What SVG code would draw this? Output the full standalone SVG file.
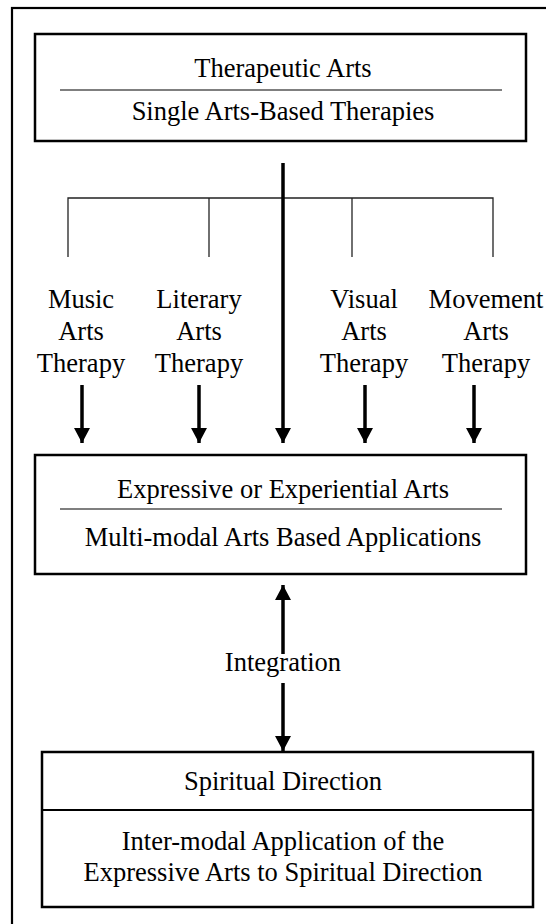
<svg xmlns="http://www.w3.org/2000/svg" width="546" height="924" viewBox="0 0 546 924">
<style>
text{font-family:'Liberation Serif',serif;font-size:26.5px;fill:#000;text-anchor:middle}
.box{fill:#fff;stroke:#000;stroke-width:2.5}
.div{stroke:#000;stroke-width:1.2}
.thin{stroke:#222;stroke-width:1.3;fill:none}
.arr{stroke:#000;stroke-width:3.5;fill:none;marker-end:url(#ah)}
</style>
<defs>
<marker id="ah" markerUnits="userSpaceOnUse" markerWidth="16" markerHeight="18" refX="15" refY="8" orient="auto">
<path d="M0,0 L15,8 L0,16 Z" fill="#000"/>
</marker>
</defs>
<rect x="0" y="0" width="546" height="924" fill="#fff"/>
<rect x="12" y="8" width="600" height="1000" fill="none" stroke="#000" stroke-width="2.2"/>
<g id="therapeutic">
<rect class="box" x="35" y="34" width="491" height="107"/>
<text x="283" y="77">Therapeutic Arts</text>
<line class="div" x1="60" y1="90" x2="502" y2="90"/>
<text x="283" y="120">Single Arts-Based Therapies</text>
</g>
<g id="music"><text x="81" y="308">Music</text><text x="81" y="340">Arts</text><text x="81" y="372">Therapy</text></g>
<g id="literary"><text x="199" y="308">Literary</text><text x="199" y="340">Arts</text><text x="199" y="372">Therapy</text></g>
<g id="visual"><text x="364" y="308">Visual</text><text x="364" y="340">Arts</text><text x="364" y="372">Therapy</text></g>
<g id="movement"><text x="486" y="308">Movement</text><text x="486" y="340">Arts</text><text x="486" y="372">Therapy</text></g>
<g id="expressive">
<rect class="box" x="35" y="455" width="491" height="119"/>
<text x="283" y="498">Expressive or Experiential Arts</text>
<line class="div" x1="60" y1="509" x2="502" y2="509"/>
<text x="283" y="546">Multi-modal Arts Based Applications</text>
</g>
<g id="integration"><text x="283" y="671">Integration</text></g>
<g id="spiritual">
<rect class="box" x="42" y="752" width="491" height="155"/>
<text x="283" y="790">Spiritual Direction</text>
<line stroke="#000" stroke-width="2.2" x1="42" y1="810" x2="533" y2="810"/>
<text x="283" y="850">Inter-modal Application of the</text>
<text x="283" y="881">Expressive Arts to Spiritual Direction</text>
</g>
<g id="connectors">
<polyline class="thin" points="68,257 68,198 493,198 493,257"/>
<line class="thin" x1="209" y1="198" x2="209" y2="257"/>
<line class="thin" x1="352" y1="198" x2="352" y2="257"/>
<line class="arr" x1="283" y1="163" x2="283" y2="443"/>
<line class="arr" x1="82" y1="385" x2="82" y2="443"/>
<line class="arr" x1="199" y1="385" x2="199" y2="443"/>
<line class="arr" x1="365" y1="385" x2="365" y2="443"/>
<line class="arr" x1="474" y1="385" x2="474" y2="443"/>
<line class="arr" x1="283" y1="654" x2="283" y2="585"/>
<line class="arr" x1="283" y1="683" x2="283" y2="751"/>
</g>
</svg>
